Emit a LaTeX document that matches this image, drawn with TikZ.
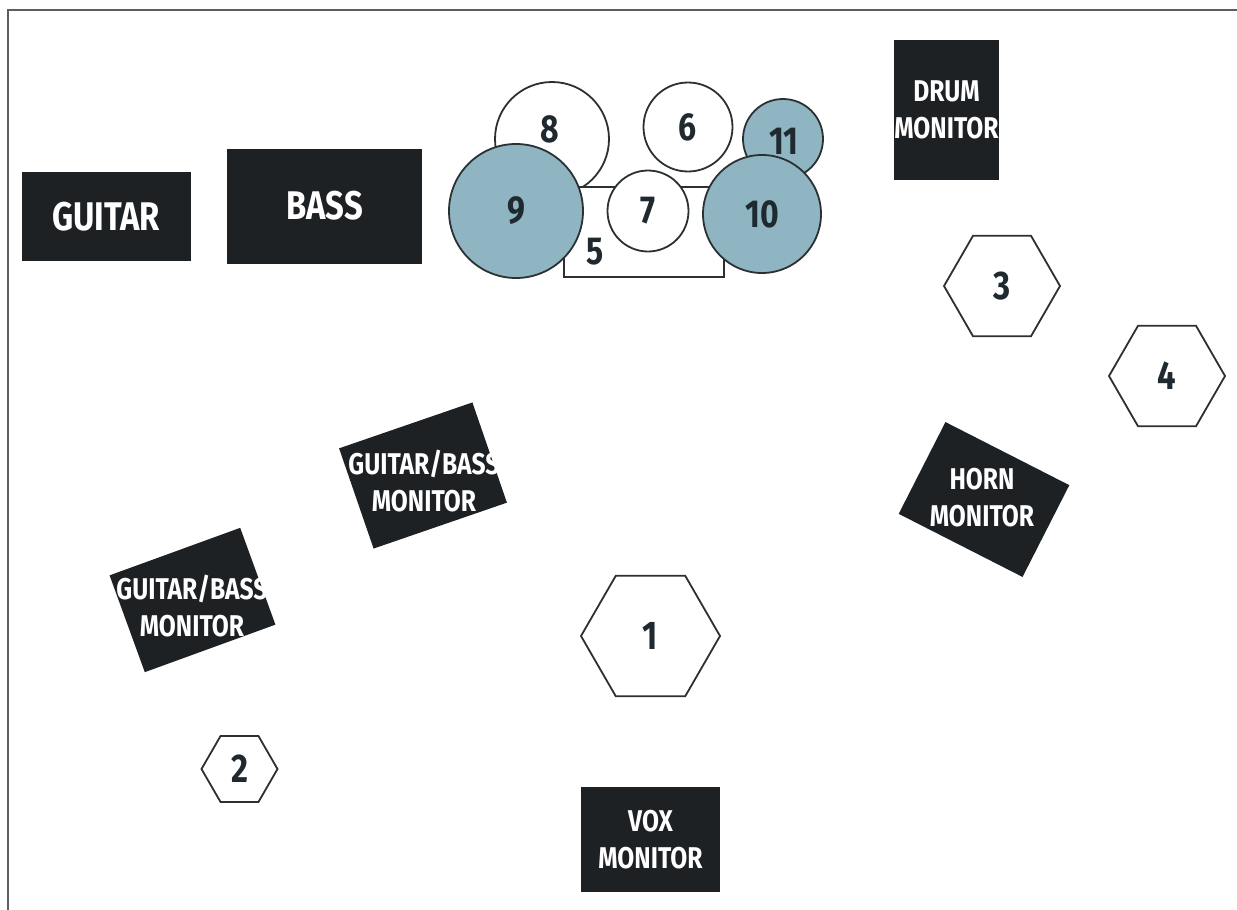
\documentclass[tikz,border=0pt]{standalone}
\usepackage{fontspec}
\setmainfont{Fira Sans}[FakeStretch=0.82]
\usetikzlibrary{shapes.geometric}
\definecolor{boxc}{HTML}{1D2124}
\definecolor{drumc}{HTML}{8FB4C2}
\definecolor{inkc}{HTML}{1F2A30}
\definecolor{linec}{HTML}{2B3033}
\definecolor{framec}{HTML}{5A5E60}
\begin{document}
\begin{tikzpicture}[x=1pt,y=-1pt,
  box/.style={fill=boxc, draw=none, inner sep=0pt, text=white, align=center,
              font=\bfseries\fontsize{30}{37}\selectfont},
  bigbox/.style={box, font=\bfseries\fontsize{40}{44}\selectfont},
  lbl/.style={text=white, align=center, inner sep=0pt,
              font=\bfseries\fontsize{30}{37}\selectfont},
  drum/.style={circle, draw=linec, line width=1.8pt, fill=white, inner sep=0pt,
               text=inkc, font=\bfseries\fontsize{39}{42}\selectfont},
  cym/.style={drum, fill=drumc},
  hex/.style={regular polygon, regular polygon sides=6,
              draw=linec, line width=1.8pt, fill=white, inner sep=0pt,
              text=inkc, font=\bfseries\fontsize{40}{44}\selectfont},
  num/.style={text=inkc, inner sep=0pt, font=\bfseries\fontsize{39}{42}\selectfont}
]
\useasboundingbox (0,0) rectangle (1237,910);
\fill[white] (0,0) rectangle (1237,910);
\draw[line width=2pt, framec] (8,910) -- (8,10) -- (1237,10);

% amps
\node[bigbox, minimum width=169, minimum height=89] (guitar) at (106,216.5) {GUITAR};
\node[bigbox, minimum width=195, minimum height=115] (bass) at (324.5,206) {BASS};

% drum kit
\node[drum, minimum size=114] (d8) at (552,139) {};
\node[num] (l8) at (550,129) {8};
\node[drum, minimum size=89] (d6) at (688,127) {6};
\node[cym, minimum size=80] (d11) at (783,139) {};
\node[num] (l11) at (784,141) {11};
\node[draw=linec, line width=1.8pt, fill=white, minimum width=160, minimum height=90,
      inner sep=0pt] (d5) at (644,232) {};
\node[num] (l5) at (595,252) {5};
\node[drum, minimum size=81] (d7) at (648,211) {7};
\node[cym, minimum size=134] (d9) at (516,211) {9};
\node[cym, minimum size=118] (d10) at (762,214) {10};

% monitors
\node[box, minimum width=105, minimum height=140] (drummon) at (946.5,110) {DRUM\\MONITOR};
\node[box, minimum width=139, minimum height=105] (voxmon) at (650.5,839.5) {VOX\\MONITOR};

\node[box, rotate=19, minimum width=141, minimum height=106] (gbm1) at (423,475.5) {};
\node[lbl] (gbm1t) at (424,481) {GUITAR/BASS\\MONITOR};
\node[box, rotate=20, minimum width=139, minimum height=103] (gbm2) at (192.5,600) {};
\node[lbl] (gbm2t) at (192,606) {GUITAR/BASS\\MONITOR};
\node[box, rotate=-27, minimum width=139, minimum height=103] (hornmon) at (984,499.5) {};
\node[lbl] (hornt) at (982,498) {HORN\\MONITOR};

% mic / player positions
\node[hex, minimum size=139] (h1) at (650.5,636) {1};
\node[hex, minimum size=76] (h2) at (239.5,769) {2};
\node[hex, minimum size=116] (h3) at (1002,286) {3};
\node[hex, minimum size=116] (h4) at (1167,376) {4};
\end{tikzpicture}
\end{document}
